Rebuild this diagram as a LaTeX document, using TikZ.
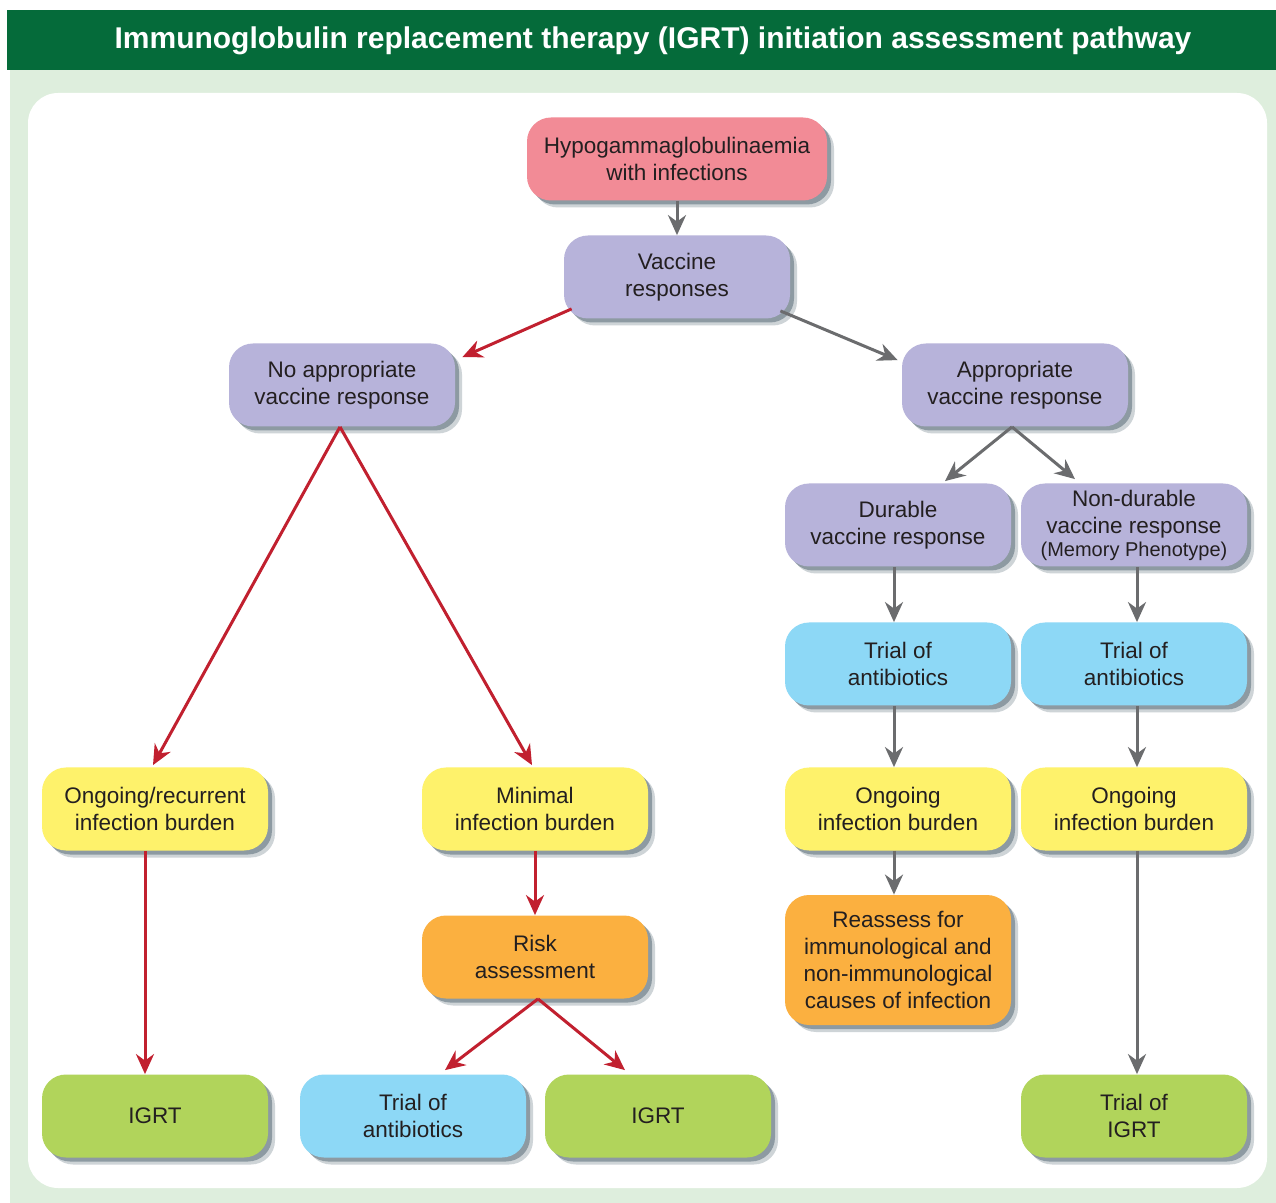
\documentclass[tikz,border=0pt]{standalone}
\usepackage{fontspec}
\setmainfont{Liberation Sans}
\usetikzlibrary{arrows.meta,calc,positioning,shadows}
\definecolor{titlegreen}{HTML}{056B3A}
\definecolor{panelgreen}{HTML}{DEEEDD}
\definecolor{pinkbox}{HTML}{F28B96}
\definecolor{lilac}{HTML}{B7B3DA}
\definecolor{skyblue}{HTML}{8DD8F6}
\definecolor{lemon}{HTML}{FEF26B}
\definecolor{amber}{HTML}{FBB040}
\definecolor{lime}{HTML}{B1D45B}
\definecolor{redline}{HTML}{C1202F}
\definecolor{greyline}{HTML}{6B6C6E}
\definecolor{ink}{HTML}{231F20}
\definecolor{shade}{HTML}{3E5462}
\tikzset{
  >={Stealth[length=10pt,width=9pt]},
  stepbox/.style={rounded corners=12pt,minimum width=113pt,minimum height=41.5pt,
                  align=center,text=ink,inner sep=2pt,
                  font=\fontsize{11.25}{13.5}\selectfont,
                  drop shadow={shadow xshift=3.5pt,shadow yshift=-3.5pt,
                               fill=shade,opacity=0.25},
                  drop shadow={shadow xshift=2pt,shadow yshift=-2pt,
                               fill=shade,opacity=0.45}},
  redarrow/.style={->,line width=1.5pt,draw=redline},
  greyarrow/.style={->,line width=1.5pt,draw=greyline}
}

\begin{document}
\begin{tikzpicture}[x=0.5pt,y=-0.5pt,line cap=butt]
  \useasboundingbox (0,0) rectangle (1276,1203);
  % Frame
  \fill[titlegreen] (7,10) rectangle (1276,70);
  \fill[panelgreen] (10,70) rectangle (1276,1203);
  \fill[white,rounded corners=15pt] (28,93) rectangle (1267,1188);
  \node[text=white,font=\bfseries\fontsize{15}{18}\selectfont] (title) at (653,41)
    {Immunoglobulin replacement therapy (IGRT) initiation assessment pathway};

  % Top
  \node[stepbox,fill=pinkbox,minimum width=150pt] (hypo) at (677,159)
    {Hypogammaglobulinaemia\\with infections};
  \node[stepbox,fill=lilac] (vac) at (677,277) {Vaccine\\responses};
  \node[stepbox,fill=lilac] (noap) at (342,385) {No appropriate\\vaccine response};
  \node[stepbox,fill=lilac] (app) at (1015,385) {Appropriate\\vaccine response};

  % Appropriate branch
  \node[stepbox,fill=lilac] (dur) at (898,525) {Durable\\vaccine response};
  \node[stepbox,fill=lilac] (ndur) at (1134,525)
    {Non-durable\\vaccine response\\[-2pt]{\fontsize{10}{12}\selectfont(Memory Phenotype)}};
  \node[stepbox,fill=skyblue] (abdur) at (898,664) {Trial of\\antibiotics};
  \node[stepbox,fill=skyblue] (abndur) at (1134,664) {Trial of\\antibiotics};
  \node[stepbox,fill=lemon] (ongdur) at (898,809) {Ongoing\\infection burden};
  \node[stepbox,fill=lemon] (ongndur) at (1134,809) {Ongoing\\infection burden};
  \node[stepbox,fill=amber,minimum height=65pt] (reass) at (898,960)
    {Reassess for\\immunological and\\non-immunological\\causes of infection};
  \node[stepbox,fill=lime] (trigrt) at (1134,1116) {Trial of\\IGRT};

  % No appropriate branch
  \node[stepbox,fill=lemon] (ongrec) at (155,809) {Ongoing/recurrent\\infection burden};
  \node[stepbox,fill=lemon] (minb) at (535,809) {Minimal\\infection burden};
  \node[stepbox,fill=amber] (risk) at (535,957) {Risk\\assessment};
  \node[stepbox,fill=lime] (igrta) at (155,1116) {IGRT};
  \node[stepbox,fill=skyblue] (abrisk) at (413,1116) {Trial of\\antibiotics};
  \node[stepbox,fill=lime] (igrtb) at (658,1116) {IGRT};

  % Connectors
  \draw[greyarrow] (hypo) -- (vac);
  \draw[redarrow] ($(vac.south west)+(8,-10)$) -- ($(noap.north east)+(7,14)$);
  \draw[greyarrow] ($(vac.south east)+(-10,-8)$) -- ($(app.north west)+(-4,17)$);
  \draw[greyarrow] ($(app.south)+(-3,0)$) -- ($(dur.north)+(47,-2)$);
  \draw[greyarrow] ($(app.south)+(-3,0)$) -- ($(ndur.north)+(-59,-4)$);
  \draw[greyarrow] ($(dur.south)+(-4,0)$) -- ($(abdur.north)+(-4,0)$);
  \draw[greyarrow] ($(abdur.south)+(-4,0)$) -- ($(ongdur.north)+(-4,0)$);
  \draw[greyarrow] ($(ongdur.south)+(-4,0)$) -- ($(reass.north)+(-4,0)$);
  \draw[greyarrow] ($(ndur.south)+(3,0)$) -- ($(abndur.north)+(3,0)$);
  \draw[greyarrow] ($(abndur.south)+(3,0)$) -- ($(ongndur.north)+(3,0)$);
  \draw[greyarrow] ($(ongndur.south)+(3,0)$) -- ($(trigrt.north)+(3,0)$);
  \draw[redarrow] ($(noap.south)+(-2,0)$) -- ($(ongrec.north)+(-2,-2)$);
  \draw[redarrow] ($(noap.south)+(-2,0)$) -- ($(minb.north)+(-3,-2)$);
  \draw[redarrow] ($(ongrec.south)+(-10,0)$) -- ($(igrta.north)+(-10,0)$);
  \draw[redarrow] (minb) -- (risk);
  \draw[redarrow] ($(risk.south)+(3,0)$) -- ($(abrisk.north)+(32,-4)$);
  \draw[redarrow] ($(risk.south)+(3,0)$) -- ($(igrtb.north)+(-33,-4)$);
\end{tikzpicture}
\end{document}
